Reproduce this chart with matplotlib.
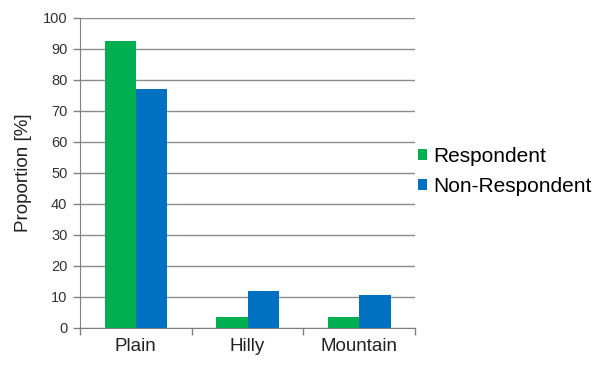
import matplotlib
matplotlib.use("Agg")
import matplotlib.pyplot as plt
import numpy as np

categories = ["Plain", "Hilly", "Mountain"]
respondent = [92.6, 3.4, 3.4]
non_respondent = [77.1, 11.9, 10.7]
yticks = [0, 10, 20, 30, 40, 50, 60, 70, 80, 90, 100]

plt.rcParams['font.family'] = ['Liberation Sans', 'DejaVu Sans']

fig = plt.figure(figsize=(6.06, 3.65), dpi=100)
ax = fig.add_axes([0.132, 0.1014, 0.553, 0.8493])

x = np.arange(len(categories))
w = 0.28
ax.bar(x - w/2, respondent, w, color="#00B050", label="Respondent", zorder=3)
ax.bar(x + w/2, non_respondent, w, color="#0070C0", label="Non-Respondent", zorder=3)

ax.set_xlim(-0.5, 2.5)
ax.set_ylim(0, 100)
ax.set_yticks(yticks)
ax.set_yticklabels([str(v) for v in yticks], fontsize=10.5, color="#333333")
ax.set_xticks(x)
ax.set_xticklabels(categories, fontsize=13.5, color="#222222")
ax.set_xticks([-0.5, 0.5, 1.5, 2.5], minor=True)
ax.tick_params(axis='x', which='major', length=0, pad=7)
ax.tick_params(axis='x', which='minor', length=5, color="#808080", width=1)
ax.tick_params(axis='y', length=5, color="#808080", width=1, pad=4)

ax.yaxis.grid(True, color="#8c8c8c", linewidth=1, zorder=0)
ax.set_axisbelow(True)
for s in ["top", "right"]:
    ax.spines[s].set_visible(False)
ax.spines["left"].set_color("#808080")
ax.spines["bottom"].set_color("#808080")

ax.set_ylabel("Proportion [%]", fontsize=13.5, color="#222222", labelpad=8)

ax.legend(loc="center left", bbox_to_anchor=(1.01, 0.505), frameon=False,
          fontsize=15, handlelength=0.4, handleheight=0.4, handletextpad=0.3,
          labelspacing=0.55, borderaxespad=0.0, borderpad=0.0)

fig.savefig("out.png", dpi=100)
